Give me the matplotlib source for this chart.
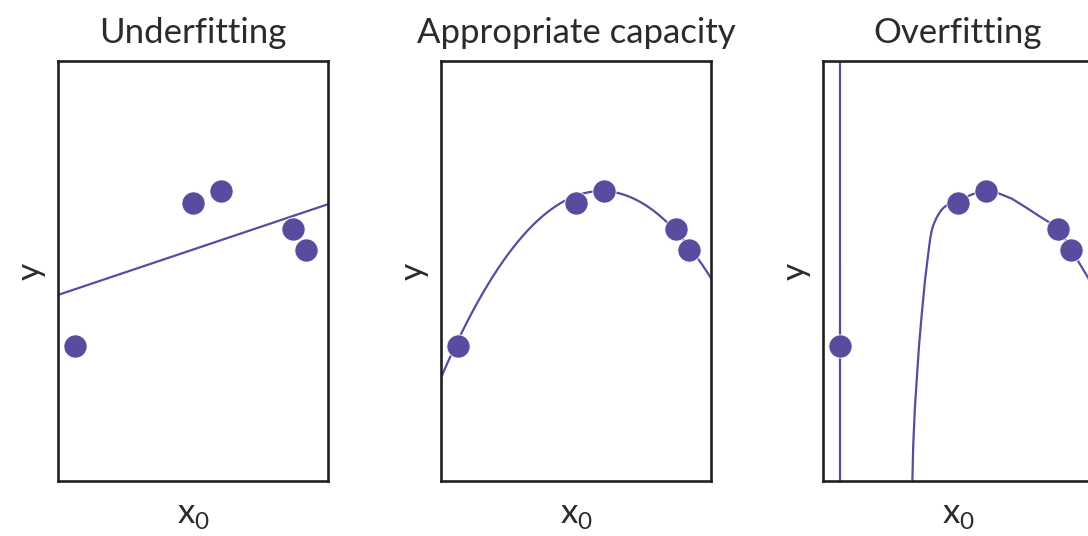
import numpy as np
import matplotlib
matplotlib.use("Agg")
import matplotlib.pyplot as plt

# ---- data (axes in unit coordinates) ----
titles = ["Underfitting", "Appropriate capacity", "Overfitting"]
x_label = r"x$_{\mathregular{0}}$"
y_label = "y"

point_x = [0.063, 0.500, 0.603, 0.870, 0.918]
point_y = [0.321, 0.662, 0.690, 0.600, 0.550]

# linear fit  y = slope*x + intercept
linear_coef = [0.216, 0.443]
# quadratic fit  y = c2*x^2 + c1*x + c0
quad_coef = [-1.259, 1.496, 0.246]

# overfit curve (vertical jump at the first point,
# then rising out of the bottom of the panel)
overfit_x = [0.0629, 0.0631, 0.3300, 0.331, 0.334, 0.340, 0.347, 0.356, 0.366,
             0.378, 0.393, 0.398, 0.403, 0.408, 0.413, 0.420, 0.427, 0.435,
             0.444, 0.455, 0.467, 0.480, 0.496, 0.525, 0.550, 0.575, 0.600,
             0.625, 0.650, 0.700, 0.750, 0.800, 0.840, 0.870, 0.895, 0.918,
             0.950, 0.981, 1.000]
overfit_y = [3.0, -3.0, -3.0, 0.000, 0.082, 0.170, 0.240, 0.325, 0.399,
             0.479, 0.558, 0.581, 0.597, 0.608, 0.616, 0.626, 0.634, 0.642,
             0.649, 0.655, 0.659, 0.662, 0.665, 0.674, 0.682, 0.687, 0.690,
             0.689, 0.685, 0.672, 0.652, 0.631, 0.615, 0.600, 0.578, 0.552,
             0.518, 0.485, 0.462]

# ---- style ----
purple = "#5b4b9e"
frame = "#231f20"
text_c = "#2b2b2b"
plt.rcParams["font.family"] = ["Lato", "DejaVu Sans"]

W, H = 1088, 536
fig = plt.figure(figsize=(W / 100, H / 100), dpi=100)
fig.patch.set_facecolor("white")

lefts = [58, 441, 823]
axes = []
for i, lp in enumerate(lefts):
    ax = fig.add_axes([lp / W, 55 / H, 270 / W, 420 / H])
    ax.set_xlim(0, 1)
    ax.set_ylim(0, 1)
    ax.set_xticks([])
    ax.set_yticks([])
    for s in ax.spines.values():
        s.set_linewidth(1.9)
        s.set_color(frame)
    ax.set_title(titles[i], fontsize=25, color=text_c, pad=13)
    ax.set_xlabel(x_label, fontsize=25, color=text_c, labelpad=13)
    ax.set_ylabel(y_label, fontsize=24, color=text_c, labelpad=9)
    axes.append(ax)

xs = np.linspace(0, 1, 400)
axes[0].plot(xs, np.polyval(linear_coef, xs), color=purple, lw=1.6, zorder=2)
axes[1].plot(xs, np.polyval(quad_coef, xs), color=purple, lw=1.6, zorder=2)
axes[2].plot(overfit_x, overfit_y, color=purple, lw=1.6, zorder=2)

for ax in axes:
    ax.scatter(point_x, point_y, s=280, color=purple, edgecolors="white",
               linewidths=0.6, zorder=3)

fig.savefig("out.png", dpi=100)
